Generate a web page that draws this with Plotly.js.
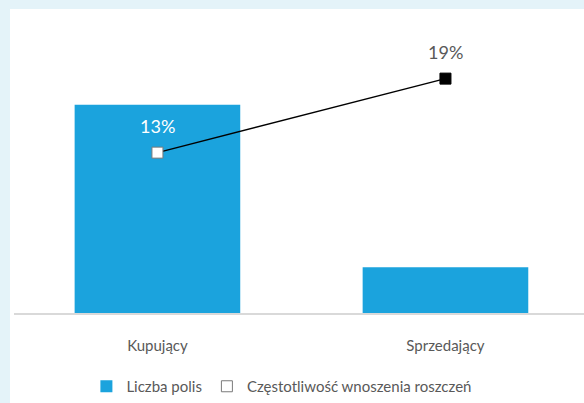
<!DOCTYPE html>
<html>
<head>
<meta charset="utf-8">
<script src="https://cdn.plot.ly/plotly-3.0.1.min.js"></script>
<style>
  html, body { margin: 0; padding: 0; background: #e4f3f9; }
  #panel { position: absolute; left: 10px; top: 9px; width: 574px; height: 394px; background: #ffffff; }
  #chart { position: absolute; left: 0; top: 0; width: 584px; height: 403px; }
</style>
</head>
<body>
<div id="panel"></div>
<div id="chart"></div>
<script>
// kategorie i dane
var kategorie = ['Kupujący', 'Sprzedający']
var liczbaPolis = [82, 18]          // udział polis (słupki)
var czestotliwosc = [13, 19]        // częstotliwość wnoszenia roszczeń w %
var etykiety = ['13%', '19%']

var szary = '#595959'
var niebieski = '#1ba3dd'

var slupki = {
    x: kategorie,
    y: liczbaPolis,
    type: 'bar',
    name: 'Liczba polis',
    width: 0.575,
    marker: { color: niebieski },
    hoverinfo: 'none'
}

// sama linia, bez legendy
var linia = {
    x: kategorie,
    y: czestotliwosc,
    yaxis: 'y2',
    type: 'scatter',
    mode: 'lines',
    line: { color: '#000000', width: 1.5 },
    showlegend: false,
    hoverinfo: 'none'
}

// punkty na linii (to one trafiają do legendy)
var punkty = {
    x: kategorie,
    y: czestotliwosc,
    yaxis: 'y2',
    type: 'scatter',
    mode: 'markers',
    name: 'Częstotliwość wnoszenia roszczeń',
    marker: {
        symbol: 'square',
        size: 11,
        color: ['#ffffff', '#000000'],
        line: { color: ['#7a7a7a', '#000000'], width: 1 }
    },
    hoverinfo: 'none'
}

var kolorEtykiet = ['#ffffff', szary]
var adnotacje = []
for (let i = 0; i < kategorie.length; i++) {
    adnotacje.push({
        x: kategorie[i],
        y: czestotliwosc[i],
        xref: 'x',
        yref: 'y2',
        text: etykiety[i],
        showarrow: false,
        yshift: 27,
        font: { family: 'Lato, sans-serif', size: 18, color: kolorEtykiet[i] }
    })
}

var layout = {
    width: 584,
    height: 403,
    margin: { l: 14, r: 0, t: 30, b: 89 },
    paper_bgcolor: 'rgba(0,0,0,0)',
    plot_bgcolor: 'rgba(0,0,0,0)',
    font: { family: 'Lato, sans-serif', size: 15, color: szary },
    showlegend: true,
    legend: {
        orientation: 'h',
        x: 0.47,
        xanchor: 'center',
        y: -0.26,
        yanchor: 'middle',
        font: { size: 15, color: szary },
        traceorder: 'normal'
    },
    xaxis: {
        type: 'category',
        range: [-0.498, 1.481],
        showline: true,
        linecolor: '#d9d9d9',
        linewidth: 2,
        showgrid: false,
        zeroline: false,
        ticks: '',
        ticklabelstandoff: 18,
        tickfont: { size: 15, color: szary }
    },
    yaxis: {
        range: [0, 111.4],
        visible: false,
        showgrid: false,
        zeroline: false
    },
    yaxis2: {
        range: [0, 22.94],
        overlaying: 'y',
        side: 'right',
        visible: false,
        showgrid: false,
        zeroline: false
    },
    annotations: adnotacje
}

Plotly.newPlot('chart', [slupki, linia, punkty], layout, { displayModeBar: false, staticPlot: true })
</script>
</body>
</html>
